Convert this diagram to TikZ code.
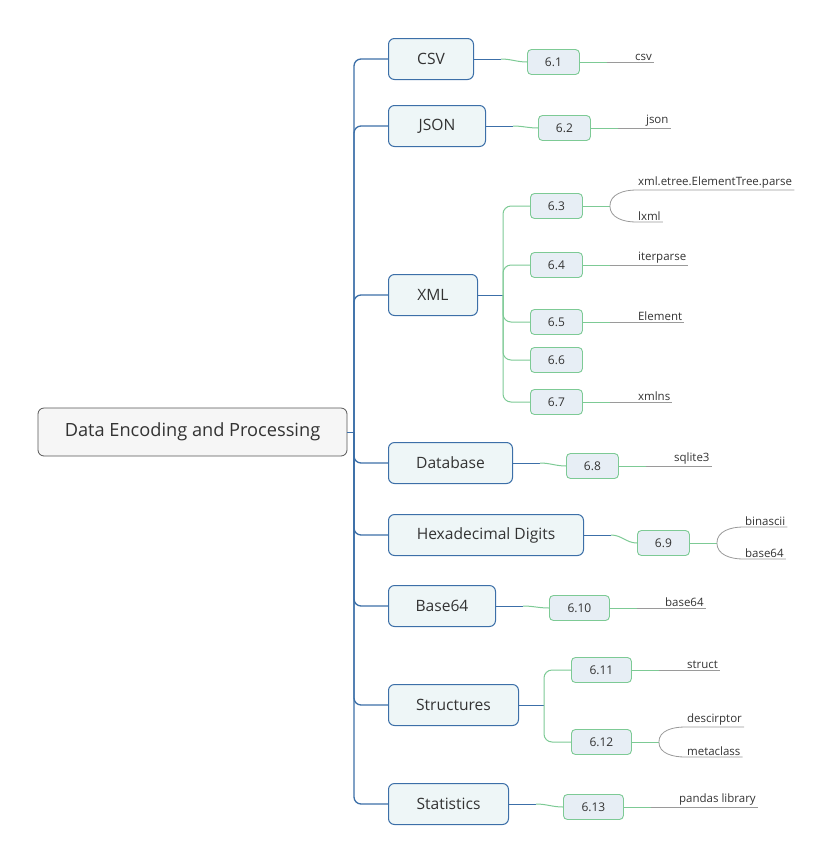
\documentclass[tikz,border=0pt]{standalone}
\usepackage{fontspec}
\setmainfont{Open Sans}
\usetikzlibrary{positioning}
\definecolor{topicblue}{HTML}{3C6FA8}
\definecolor{topicfill}{HTML}{EEF6F7}
\definecolor{secgreen}{HTML}{7DCA95}
\definecolor{secfill}{HTML}{E7EEF5}
\definecolor{rootline}{HTML}{555555}
\definecolor{rootfill}{HTML}{F6F6F6}
\definecolor{leafgray}{HTML}{9A9A9A}
\definecolor{inkgray}{HTML}{333333}
\tikzset{
  rootbox/.style={draw=rootline, fill=rootfill, rounded corners=6pt, line width=0.8pt,
    minimum width=309pt, minimum height=48pt, font=\fontsize{18.2}{21}\selectfont, text=inkgray},
  topic/.style={draw=topicblue, fill=topicfill, rounded corners=6pt, line width=1pt,
    minimum height=41pt, anchor=west, font=\fontsize{15.6}{18}\selectfont, text=inkgray},
  sec/.style={draw=secgreen, fill=secfill, rounded corners=4pt, line width=0.9pt,
    minimum width=52pt, minimum height=25pt, anchor=west, font=\fontsize{12}{14}\selectfont, text=inkgray},
  leaf/.style={anchor=south west, inner xsep=0pt, inner ysep=1.5pt,
    font=\fontsize{11.5}{13}\selectfont, text=inkgray},
  trunk/.style={draw=topicblue, line width=1.3pt, rounded corners=7pt},
  topline/.style={draw=topicblue, line width=1pt},
  secline/.style={draw=secgreen, line width=1pt, rounded corners=8pt},
  leafline/.style={draw=leafgray, line width=0.8pt},
}
\begin{document}
\begin{tikzpicture}[x=1pt, y=-1pt]
    \useasboundingbox (0,0) rectangle (829,863);
    % root
    \node[rootbox] (root) at (192.5,432) {Data Encoding and Processing};
    % topics
    \node[topic, minimum width=85pt] (csv) at (388,59) {CSV};
    \node[topic, minimum width=97pt] (json) at (388,126) {JSON};
    \node[topic, minimum width=89pt] (xml) at (388,295) {XML};
    \node[topic, minimum width=124pt] (db) at (388,463) {Database};
    \node[topic, minimum width=195pt] (hex) at (388,535) {Hexadecimal Digits};
    \node[topic, minimum width=107pt] (b64) at (388,606) {Base64};
    \node[topic, minimum width=130pt] (struct) at (388,705) {Structures};
    \node[topic, minimum width=120pt] (stat) at (388,804) {Statistics};
    % trunk
    \coordinate (hub) at (354,432);
    \draw[topline] (root.east) -- (hub);
    \foreach \t in {csv,json,xml,db,hex,b64,struct,stat}
        \draw[trunk] (hub) |- (\t.west);
    % sections
    \node[sec] (s61) at (527,62) {6.1};
    \node[sec] (s62) at (538,128) {6.2};
    \node[sec] (s63) at (530,206) {6.3};
    \node[sec] (s64) at (530,265) {6.4};
    \node[sec] (s65) at (530,322) {6.5};
    \node[sec] (s66) at (530,360) {6.6};
    \node[sec] (s67) at (530,402) {6.7};
    \node[sec] (s68) at (566,466) {6.8};
    \node[sec] (s69) at (637,543) {6.9};
    \node[sec, minimum width=60pt] (s610) at (549,608) {6.10};
    \node[sec, minimum width=60pt] (s611) at (571,670) {6.11};
    \node[sec, minimum width=60pt] (s612) at (571,742) {6.12};
    \node[sec, minimum width=60pt] (s613) at (563,807) {6.13};
    % topic to section
    \foreach \t/\s in {csv/s61, json/s62, db/s68, hex/s69, b64/s610, stat/s613} {
        \draw[topline] (\t.east) -- ++(27,0) coordinate (j-\t);
        \draw[secline] (j-\t) to[out=0,in=180] (\s.west);
    }
    \coordinate (xhub) at (503,295);
    \draw[topline] (xml.east) -- (xhub);
    \foreach \s in {s63,s64,s65,s66,s67}
        \draw[secline] (xhub) |- (\s.west);
    \coordinate (shub) at (544,705);
    \draw[topline] (struct.east) -- (shub);
    \foreach \s in {s611,s612}
        \draw[secline] (shub) |- (\s.west);
    % single leaves
    \foreach \s/\l/\txt in {s61/lcsv/csv, s62/ljson/json, s64/liter/iterparse,
        s65/lelem/Element, s67/lns/xmlns, s68/lsql/sqlite3, s610/lb64/base64,
        s611/lstruct/struct, s613/lpd/pandas library} {
        \node[leaf] (\l) at ([xshift=55pt]\s.east) {\txt};
        \draw[secline] (\s.east) -- ++(27,0) coordinate (k-\s);
        \draw[leafline] (k-\s) -- ([xshift=2pt]\l.south east);
    }
    % forked leaves
    \foreach \s/\la/\ta/\lb/\tb/\d in {s63/letree/xml.etree.ElementTree.parse/llxml/lxml/16,
        s69/lbin/binascii/lbsf/base64/16, s612/ldesc/descirptor/lmeta/metaclass/15} {
        \node[leaf] (\la) at ([xshift=55pt,yshift=\d pt]\s.east) {\ta};
        \node[leaf] (\lb) at ([xshift=55pt,yshift=-\d pt]\s.east) {\tb};
        \draw[secline] (\s.east) -- ++(27,0) coordinate (k-\s);
        \draw[leafline] (k-\s) to[out=90,in=180] ([xshift=-2pt]\la.south west) -- ([xshift=2pt]\la.south east);
        \draw[leafline] (k-\s) to[out=-90,in=180] ([xshift=-2pt]\lb.south west) -- ([xshift=2pt]\lb.south east);
    }
\end{tikzpicture}
\end{document}
